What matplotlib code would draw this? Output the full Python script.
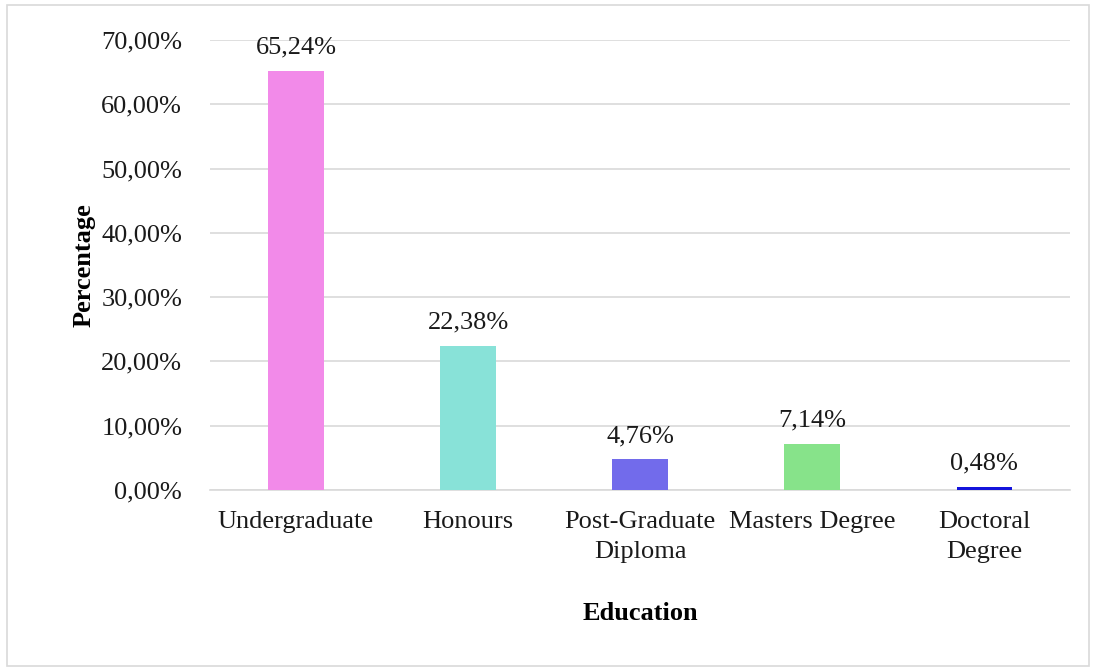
import matplotlib.pyplot as plt
from matplotlib.patches import Rectangle

# Education level distribution
categories = ['Undergraduate', 'Honours', 'Post-Graduate\nDiploma', 'Masters Degree', 'Doctoral\nDegree']
percentages = [65.24, 22.38, 4.76, 7.14, 0.48]
colors = ['#F28AE9', '#88E2D8', '#726BEB', '#87E38A', '#1414DC']
yticks = [0, 10, 20, 30, 40, 50, 60, 70]

plt.rcParams['font.family'] = ['Liberation Serif', 'DejaVu Serif']
fs = 19

fig = plt.figure(figsize=(10.96, 6.71), dpi=100)
ax = fig.add_axes([0.1916, 0.2697, 0.7847, 0.6707])

# outer frame around the whole chart
fig.patches.append(Rectangle((0.006, 0.007), 0.988, 0.986, transform=fig.transFigure,
                             fill=False, edgecolor='#D9D9D9', linewidth=1.2))

x = range(len(categories))
bars = ax.bar(x, percentages, width=0.32, color=colors, zorder=3)

for xi, v in zip(x, percentages):
    ax.text(xi, v + 1.9, f'{v:.2f}%'.replace('.', ','), ha='center', va='bottom',
            fontsize=fs, color='#1a1a1a')

ax.set_xlim(-0.5, len(categories) - 0.5)
ax.set_ylim(0, 70)
ax.set_yticks(yticks)
ax.set_yticklabels([f'{t:.2f}%'.replace('.', ',') for t in yticks], fontsize=fs)
ax.set_xticks(list(x))
ax.set_xticklabels(categories, fontsize=fs, linespacing=1.5)
ax.tick_params(axis='both', length=0, colors='#1a1a1a')
ax.tick_params(axis='x', pad=15)
ax.tick_params(axis='y', pad=20)

ax.grid(axis='y', color='#D9D9D9', linewidth=1.2, zorder=0)
for side in ['top', 'right', 'left']:
    ax.spines[side].set_visible(False)
ax.spines['bottom'].set_color('#D9D9D9')
ax.spines['bottom'].set_linewidth(1.2)

ax.set_ylabel('Percentage', fontsize=fs, fontweight='bold', labelpad=4)
ax.set_xlabel('Education', fontsize=fs, fontweight='bold', labelpad=28)

fig.savefig('out.png', dpi=100)
